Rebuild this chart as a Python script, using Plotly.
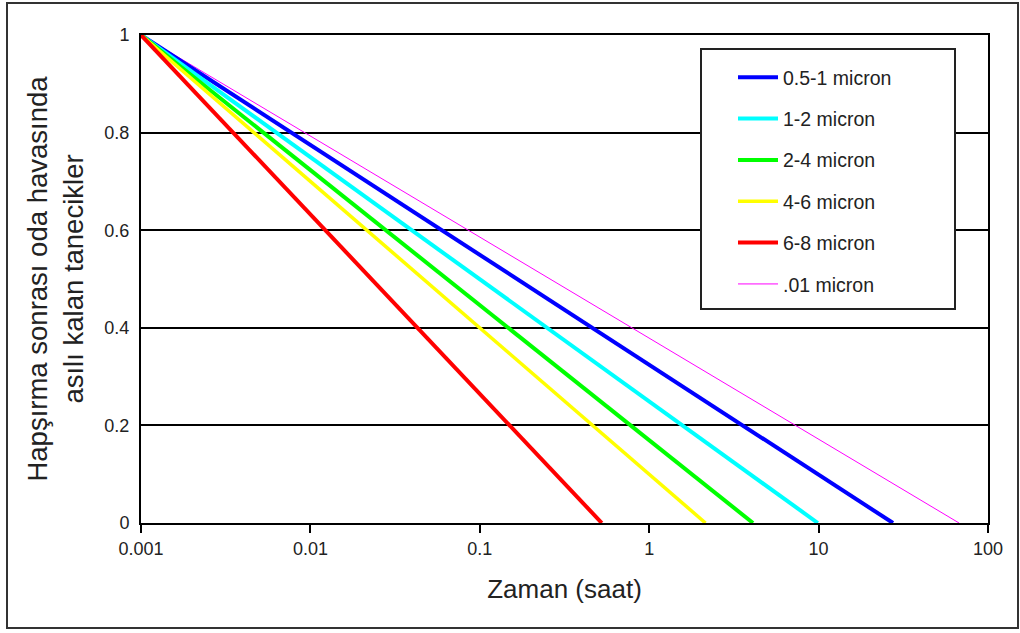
import plotly.graph_objects as go

# Particle size classes and the time (hours) at which the remaining fraction reaches zero
sizes = ["0.5-1 micron", "1-2 micron", "2-4 micron", "4-6 micron", "6-8 micron", ".01 micron"]
colors = ["#0000FF", "#00FFFF", "#00FF00", "#FFFF00", "#FF0000", "#FF00FF"]
widths = [4, 4, 4, 3.5, 4, 1]
t_start = 0.001
t_end = [27.5, 9.9, 4.1, 2.15, 0.525, 67.5]
frac_start = 1.0
frac_end = 0.0

x_ticks = [0.001, 0.01, 0.1, 1, 10, 100]
x_tick_text = ["0.001", "0.01", "0.1", "1", "10", "100"]
y_ticks = [0, 0.2, 0.4, 0.6, 0.8, 1]
y_tick_text = ["0", "0.2", "0.4", "0.6", "0.8", "1"]

W, H = 1020, 633
L, R, T, B = 141, 32, 35, 110
PW, PH = W - L - R, H - T - B

def px_x(p):
    return (p - L) / PW

def px_y(p):
    return (H - B - p) / PH

FONT = "Liberation Sans, Arial, sans-serif"

fig = go.Figure()

# draw order: magenta first, red last; legend keeps the listed order
draw_order = [5, 0, 1, 2, 3, 4]
for i in draw_order:
    fig.add_trace(go.Scatter(
        x=[t_start, t_end[i]],
        y=[frac_start, frac_end],
        mode="lines",
        name=sizes[i],
        line=dict(color=colors[i], width=widths[i]),
        legendrank=i + 1,
        legendgroup=str(i),
    ))

axis_common = dict(
    showline=True, linecolor="black", linewidth=2, mirror=True,
    tickfont=dict(family=FONT, size=18, color="#222222"),
    zeroline=False,
)

fig.update_xaxes(
    type="log", range=[-3, 2],
    tickvals=x_ticks, ticktext=x_tick_text,
    ticks="outside", ticklen=8, tickwidth=2, tickcolor="black",
    showgrid=False,
    title=dict(text="Zaman (saat)", font=dict(family=FONT, size=26, color="#222222"), standoff=22),
    **axis_common,
)
fig.update_yaxes(
    range=[0, 1],
    tickvals=y_ticks, ticktext=y_tick_text,
    ticks="", ticklabelstandoff=6,
    showgrid=True, gridcolor="black", gridwidth=1.5,
    title=dict(text="Hapşırma sonrası oda havasında<br>asılı kalan tanecikler",
               font=dict(family=FONT, size=27.5, color="#222222"), standoff=13),
    **axis_common,
)

shapes = [
    # outer frame
    dict(type="rect", xref="paper", yref="paper",
         x0=px_x(7), x1=px_x(1018), y0=px_y(628), y1=px_y(3),
         line=dict(color="#333333", width=2), fillcolor="rgba(0,0,0,0)", layer="above"),
    # legend box
    dict(type="rect", xref="paper", yref="paper",
         x0=px_x(701), x1=px_x(955), y0=px_y(309), y1=px_y(49),
         line=dict(color="#222222", width=2), fillcolor="white", layer="above"),
]

fig.update_layout(
    width=W, height=H,
    margin=dict(l=L, r=R, t=T, b=B),
    paper_bgcolor="white", plot_bgcolor="white",
    showlegend=True,
    legend=dict(
        x=px_x(733), y=px_y(58), xanchor="left", yanchor="top",
        bgcolor="rgba(0,0,0,0)", borderwidth=0,
        font=dict(family=FONT, size=19.5, color="#222222"),
        traceorder="grouped", tracegroupgap=13,
        itemwidth=40,
    ),
    shapes=shapes,
)

fig.write_html("out.html")
